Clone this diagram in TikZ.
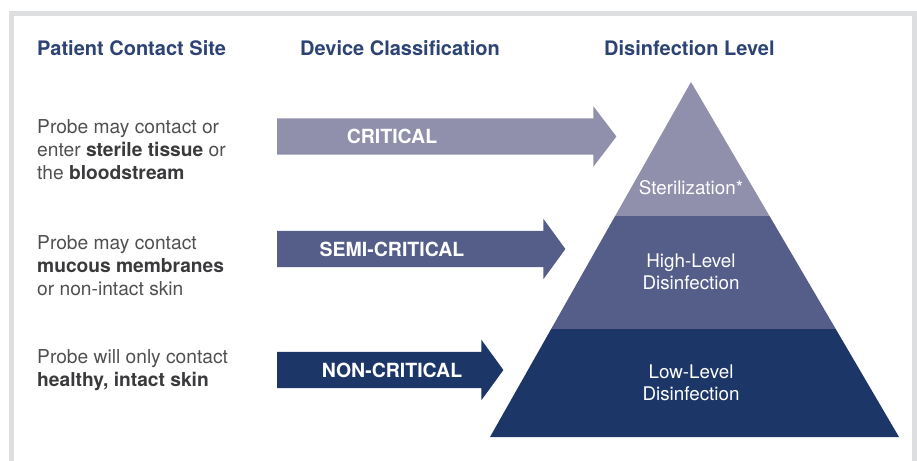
\documentclass[tikz,border=0pt]{standalone}
\usepackage{fontspec}
\setmainfont{TeX Gyre Heros}
\usetikzlibrary{positioning}
\usetikzlibrary{calc}

\definecolor{framegray}{HTML}{DDDEE0}
\definecolor{headblue}{HTML}{2C4373}
\definecolor{textgray}{HTML}{505052}
\definecolor{boldgray}{HTML}{3A3A3C}
\definecolor{critcol}{HTML}{908FAC}
\definecolor{semicol}{HTML}{545E88}
\definecolor{noncol}{HTML}{1C3767}

\tikzset{
  heading/.style={anchor=base west, inner sep=0, text=headblue,
                  font=\fontsize{20}{24}\selectfont\bfseries},
  site/.style={anchor=north west, inner sep=0, align=left, text=textgray,
               font=\fontsize{19.2}{23}\selectfont},
  shaft/.style={inner sep=0, minimum height=36pt, anchor=west},
  classlabel/.style={inner sep=0, text=white,
                     font=\fontsize{19.5}{23}\selectfont\bfseries},
  levellabel/.style={inner sep=0, align=center, text=white,
                     font=\fontsize{18.8}{22}\selectfont},
}
\newcommand{\bd}[1]{\textcolor{boldgray}{\textbf{#1}}}

\begin{document}
\begin{tikzpicture}[x=1pt, y=-1pt]

        \useasboundingbox (0,0) rectangle (917,460);
        \draw [framegray, line width=5.4pt] (11.4,470) -- (11.4,13.6) -- (914.6,13.6) -- (914.6,470);

        \node (sitehead) [heading] at (37,56) {Patient Contact Site};
        \node (classhead) [heading] at (300,56) {Device Classification};
        \node (levelhead) [heading] at (604,56) {Disinfection Level};

        \node (site1) [site] at (37,119) {Probe may contact or\\enter \bd{sterile tissue} or\\the \bd{bloodstream}};
        \node (site2) [site] at (37,235) {Probe may contact\\\bd{mucous membranes}\\or non-intact skin};
        \node (site3) [site] at (37,349) {Probe will only contact\\\bd{healthy, intact skin}};

        \node (crit) [shaft, minimum width=316pt] at (277,136.5) {};
        \node (semi) [shaft, minimum width=266pt] at (277,249) {};
        \node (noncrit) [shaft, minimum width=204pt] at (277,370) {};

        \fill [critcol] (crit.south west) -- (crit.north west) -- (crit.north east) -- ++(0,-12)
              -- ($(crit.east)+(23,0)$) -- ($(crit.south east)+(0,12)$) -- (crit.south east) -- cycle;
        \fill [semicol] (semi.south west) -- (semi.north west) -- (semi.north east) -- ++(0,-12)
              -- ($(semi.east)+(22,0)$) -- ($(semi.south east)+(0,12)$) -- (semi.south east) -- cycle;
        \fill [noncol] (noncrit.south west) -- (noncrit.north west) -- (noncrit.north east) -- ++(0,-12)
              -- ($(noncrit.east)+(22,0)$) -- ($(noncrit.south east)+(0,12)$) -- (noncrit.south east) -- cycle;

        \node (critlabel) [classlabel] at ([xshift=115pt]crit.west) {CRITICAL};
        \node (semilabel) [classlabel] at ([xshift=115pt]semi.west) {SEMI-CRITICAL};
        \node (nonlabel) [classlabel] at ([xshift=115pt]noncrit.west) {NON-CRITICAL};

        \coordinate (apex) at (691,82);
        \coordinate (baseleft) at (490,437);
        \coordinate (baseright) at (899,437);
        \coordinate (left1) at ($(apex)!0.3775!(baseleft)$);
        \coordinate (right1) at ($(apex)!0.3775!(baseright)$);
        \coordinate (left2) at ($(apex)!0.6958!(baseleft)$);
        \coordinate (right2) at ($(apex)!0.6958!(baseright)$);

        \fill [critcol] (apex) -- (right1) -- (left1) -- cycle;
        \fill [semicol] (left1) -- (right1) -- (right2) -- (left2) -- cycle;
        \fill [noncol] (left2) -- (right2) -- (baseright) -- (baseleft) -- cycle;

        \node (steril) [levellabel] at (691,188) {Sterilization*};
        \node (highlevel) [levellabel] at (691,272) {High-Level\\Disinfection};
        \node (lowlevel) [levellabel] at (691,383) {Low-Level\\Disinfection};

\end{tikzpicture}
\end{document}
